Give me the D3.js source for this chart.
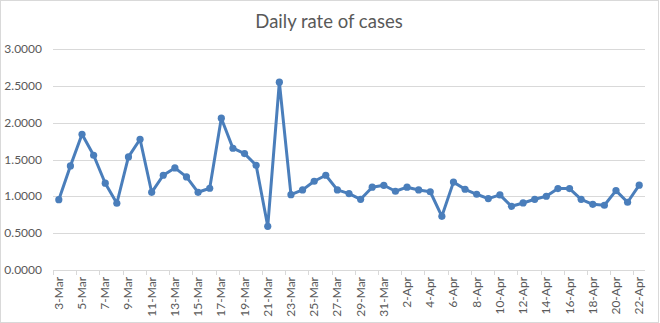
<!DOCTYPE html>
<html><head><meta charset="utf-8">
<script src="https://cdn.jsdelivr.net/npm/d3@7"></script>
<style>body{margin:0;background:#fff}svg{display:block}</style>
</head><body>
<script>
const categories = (function(){
  const a=[];
  for(let d=3; d<=31; d++) a.push(d+"-Mar");
  for(let d=1; d<=22; d++) a.push(d+"-Apr");
  return a;
})();
const rates = [0.955,1.413,1.843,1.558,1.178,0.906,1.535,1.775,1.055,1.286,
  1.386,1.264,1.055,1.110,2.061,1.653,1.580,1.422,0.593,2.550,
  1.023,1.087,1.205,1.286,1.087,1.037,0.960,1.124,1.150,1.069,
  1.124,1.087,1.062,0.729,1.193,1.096,1.028,0.969,1.019,0.865,
  0.910,0.960,1.001,1.105,1.105,0.960,0.892,0.879,1.078,0.920,1.151];
const yTicks = [0,0.5,1,1.5,2,2.5,3];

const W=660,H=323;
const m={left:53,right:15,top:49,bottom:53};
const svg=d3.select("body").append("svg").attr("width",W).attr("height",H);
svg.append("rect").attr("x",0.5).attr("y",0.5).attr("width",W-2).attr("height",H-1)
  .attr("fill","#fff").attr("stroke","#d9d9d9");
const font="Lato, 'Open Sans', sans-serif";
svg.append("text").attr("x",329).attr("y",28).attr("text-anchor","middle")
  .attr("font-family",font).attr("font-size",18.5).attr("fill","#595959").text("Daily rate of cases");

const x=d3.scaleBand().domain(categories).range([53,645]);
const y=d3.scaleLinear().domain([0,3]).range([270,49]);

const g=svg.append("g");
g.selectAll("line.grid").data(yTicks.filter(d=>d>0)).join("line")
  .attr("x1",53).attr("x2",645).attr("y1",d=>Math.round(y(d))+0.5).attr("y2",d=>Math.round(y(d))+0.5)
  .attr("stroke","#d9d9d9").attr("stroke-width",1);
g.selectAll("text.yl").data(yTicks).join("text")
  .attr("x",42).attr("y",d=>y(d)+4).attr("text-anchor","end")
  .attr("font-family",font).attr("font-size",12).attr("fill","#595959")
  .text(d=>d.toFixed(4));
// x axis
g.append("line").attr("x1",53).attr("x2",645).attr("y1",270.5).attr("y2",270.5).attr("stroke","#d9d9d9");
const tickIdx=d3.range(0,categories.length+1,2);
g.selectAll("line.xt").data(tickIdx).join("line")
  .attr("x1",i=>Math.round(i<categories.length? x(categories[i]) : x.range()[1])+0.5)
  .attr("x2",i=>Math.round(i<categories.length? x(categories[i]) : x.range()[1])+0.5)
  .attr("y1",270).attr("y2",275).attr("stroke","#d9d9d9");
g.selectAll("text.xl").data(categories.filter((d,i)=>i%2===0)).join("text")
  .attr("transform",d=>`translate(${x(d)+x.bandwidth()/2+4},277) rotate(-90)`)
  .attr("text-anchor","end").attr("font-family",font).attr("font-size",12).attr("fill","#595959")
  .text(d=>d);

const cx=(d,i)=>x(categories[i])+x.bandwidth()/2;
const line=d3.line().x((d,i)=>cx(d,i)).y(d=>y(d));
g.append("path").datum(rates).attr("d",line).attr("fill","none")
  .attr("stroke","#4a7ebb").attr("stroke-width",3).attr("stroke-linejoin","round");
g.selectAll("circle").data(rates).join("circle")
  .attr("cx",cx).attr("cy",d=>y(d)).attr("r",3.6).attr("fill","#4a7ebb");
</script>
</body></html>
